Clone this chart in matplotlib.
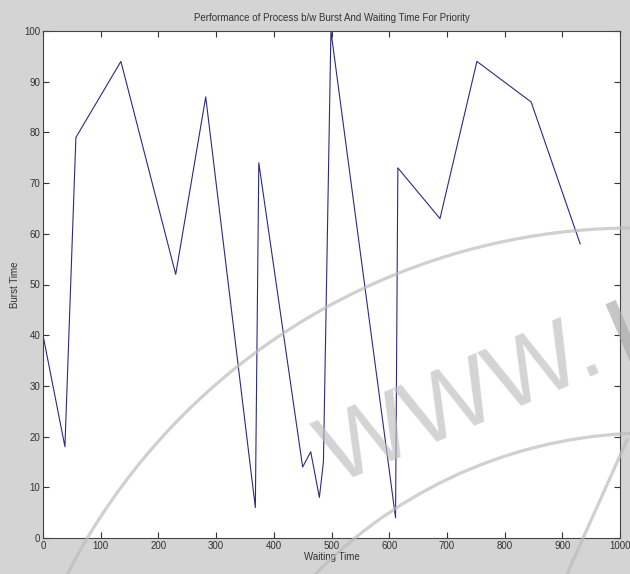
import matplotlib
matplotlib.use('Agg')
import matplotlib.pyplot as plt
from matplotlib.patches import Arc, Rectangle
from matplotlib.lines import Line2D

# data
waiting_time = [0, 38, 57, 135, 230, 282, 368, 374, 450, 464, 479, 486, 499, 611, 615, 688, 752, 846, 931]
burst_time = [40, 18, 79, 94, 52, 87, 6, 74, 14, 17, 8, 15, 100, 4, 73, 63, 94, 86, 58]
x_ticks = [0, 100, 200, 300, 400, 500, 600, 700, 800, 900, 1000]
y_ticks = [0, 10, 20, 30, 40, 50, 60, 70, 80, 90, 100]

plt.rcParams['font.family'] = ['Liberation Sans Narrow', 'Liberation Sans', 'DejaVu Sans']

W, H = 630, 574
fig = plt.figure(figsize=(6.3, 5.74), dpi=100, facecolor='#d4d4d4')
ax = fig.add_axes([43 / W, 1 - 538 / H, (620 - 43) / W, (538 - 31) / H])
ax.plot(waiting_time, burst_time, color='#2b2b80', lw=0.8)

ax.set_xlim(0, 1000)
ax.set_ylim(0, 100)
ax.set_xticks(x_ticks)
ax.set_yticks(y_ticks)
ax.tick_params(direction='in', top=True, right=True, length=4, width=0.8,
               labelsize=7, pad=2, colors='#333333')
for s in ax.spines.values():
    s.set_color('#444444')
    s.set_linewidth(0.8)

ax.set_title('Performance of Process b/w Burst And Waiting Time For Priority',
             fontsize=7, color='#333333', pad=7)
ax.set_xlabel('Waiting Time', fontsize=7, color='#333333', labelpad=1)
ax.set_ylabel('Burst Time', fontsize=7, color='#333333', labelpad=3)

# watermark arcs and text (pixel positions, y measured from the bottom)
def arc(cx, cy, r):
    a = Arc((cx / W, cy / H), 2 * r / W, 2 * r / H, theta1=0, theta2=180,
            transform=fig.transFigure, color='#bcbcbc', lw=2.3, alpha=0.7, zorder=5)
    fig.add_artist(a)

arc(634, 574 - 865, 637)
arc(650, 574 - 900, 467)
fig.add_artist(Line2D([627 / W, 567 / W], [(574 - 440) / H, 0], transform=fig.transFigure,
                      color='#bcbcbc', lw=2.3, alpha=0.7, zorder=5))
fig.text(335 / W, (574 - 485) / H, 'WWW.', fontsize=70, color='#bdbdbd', alpha=0.65,
         rotation=23, rotation_mode='anchor', ha='left', va='baseline',
         family=['Liberation Sans', 'DejaVu Sans'], zorder=5)
# stem of the next letter, cut by the right edge
fig.add_artist(Rectangle((6.36, 1.98), 0.11, 0.78, angle=23, transform=fig.dpi_scale_trans,
                         color='#a8a8a8', alpha=0.65, lw=0, zorder=5))

fig.savefig('out.png', dpi=100, facecolor=fig.get_facecolor())
